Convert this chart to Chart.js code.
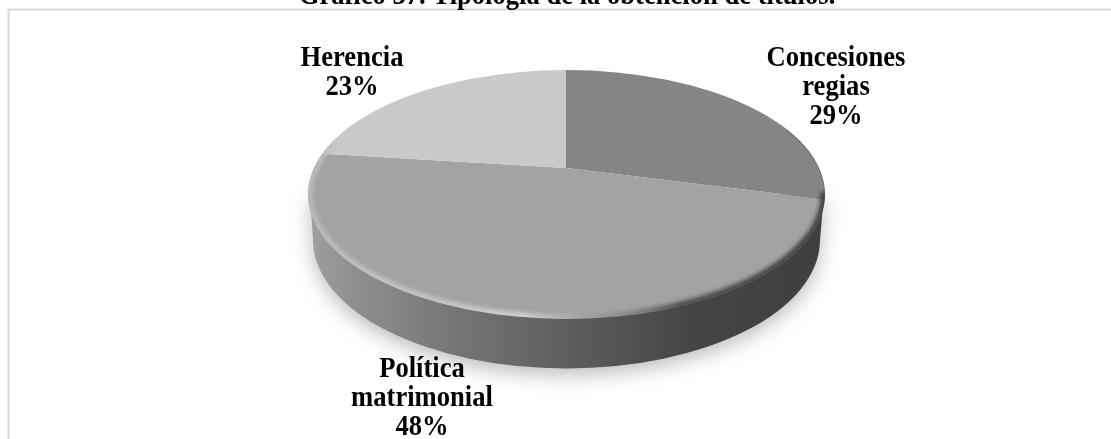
<!DOCTYPE html>
<html><head><meta charset="utf-8">
<style>html,body{margin:0;padding:0;background:#fff;overflow:hidden}canvas{display:block}</style>
<script src="https://cdn.jsdelivr.net/npm/chart.js@4/dist/chart.umd.js"></script>
</head><body><canvas id="c" width="1111" height="439"></canvas>
<script>
const categories = ["Concesiones regias", "Política matrimonial", "Herencia"];
const values = [29, 48, 23];
const sliceColors = ["#858585", "#a3a3a3", "#c9c9c9"];
const labelLines = [["Concesiones","regias","29%"],["Política","matrimonial","48%"],["Herencia","23%"]];
const labelCenters = [[836,66],[422,377],[352,66]];
const titleText = "Gráfico 37. Tipología de la obtención de títulos.";

const E = {cx:566.5, cy:194.5, rx:258.5, ry:124.5};
const B = {cx:566.5, cy:240, rx:253.5, ry:128.5};
const apex = {x:566, y:168}, squash = 0.47;

const pie3d = {
  id:"pie3d",
  beforeDraw(chart){
    const c = chart.ctx;
    c.save();
    c.fillStyle="#fff"; c.fillRect(0,0,1111,439);
    c.strokeStyle="#d9d9d9"; c.lineWidth=2;
    c.beginPath(); c.moveTo(8.5,439); c.lineTo(8.5,9.5); c.lineTo(1111,9.5); c.stroke();
    c.restore();
  },
  beforeDatasetsDraw(chart){
    const c = chart.ctx, arc = chart.getDatasetMeta(0).data[0];
    const side = () => {
      c.beginPath();
      c.moveTo(E.cx-E.rx+2,E.cy);
      c.lineTo(B.cx-B.rx,B.cy);
      c.ellipse(B.cx,B.cy,B.rx,B.ry,0,Math.PI,0,true);
      c.lineTo(E.cx+E.rx-1,E.cy);
      c.closePath();
    };
    const g = c.createLinearGradient(E.cx-E.rx,0,E.cx+E.rx,0);
    g.addColorStop(0,"#a0a0a0"); g.addColorStop(0.1,"#8e8e8e"); g.addColorStop(0.28,"#767676");
    g.addColorStop(0.5,"#5e5e5e"); g.addColorStop(0.75,"#444444"); g.addColorStop(1,"#3f3f3f");
    c.save();
    c.shadowColor="rgba(0,0,0,0.27)"; c.shadowBlur=20; c.shadowOffsetY=6;
    c.fillStyle=g; side(); c.fill();
    c.restore();
    c.save();
    c.beginPath(); c.ellipse(E.cx,E.cy,E.rx,E.ry,0,0,Math.PI*2); c.clip();
    c.translate(apex.x,apex.y); c.scale(1,squash); c.translate(-arc.x,-arc.y);
  },
  afterDatasetsDraw(chart){
    const c = chart.ctx;
    c.restore();
    const g = c.createLinearGradient(E.cx-E.rx,0,E.cx+E.rx,0);
    g.addColorStop(0,"rgba(190,190,190,0.9)"); g.addColorStop(0.25,"rgba(205,205,205,0.85)");
    g.addColorStop(0.42,"rgba(220,220,220,0.8)"); g.addColorStop(0.58,"rgba(140,140,140,0.6)");
    g.addColorStop(0.72,"rgba(64,64,64,0.9)"); g.addColorStop(1,"rgba(62,62,62,1)");
    c.save();
    c.beginPath(); c.ellipse(E.cx,E.cy,E.rx,E.ry,0,0,Math.PI*2); c.clip();
    c.filter="blur(2px)";
    c.strokeStyle=g; c.lineWidth=7;
    c.beginPath(); c.ellipse(E.cx,E.cy,E.rx-1,E.ry-1,0,Math.PI+0.45,-0.02,true); c.stroke();
    c.filter="none";
    c.strokeStyle="rgba(60,60,60,0.3)"; c.lineWidth=2;
    c.beginPath(); c.ellipse(E.cx,E.cy,E.rx,E.ry,0,-0.55,0.02); c.stroke();
    c.restore();
    c.save();
    c.fillStyle="#000"; c.textAlign="center"; c.textBaseline="alphabetic";
    c.font='bold 26.6px "Liberation Serif"';
    const put = (t,x,y) => { c.save(); c.translate(x,y); c.scale(1,1.1); c.fillText(t,0,0); c.restore(); };
    labelLines.forEach((lines,i)=>{
      lines.forEach((t,j)=>put(t,labelCenters[i][0],labelCenters[i][1]+j*29));
    });
    put(titleText,567,4);
    c.restore();
  }
};

new Chart(document.getElementById("c"),{
  type:"pie",
  data:{labels:categories,datasets:[{data:values,backgroundColor:sliceColors,borderWidth:0,clip:false,radius:345}]},
  options:{responsive:false,animation:false,
    plugins:{legend:{display:false},title:{display:false},tooltip:{enabled:false}}},
  plugins:[pie3d]
});
</script></body></html>
